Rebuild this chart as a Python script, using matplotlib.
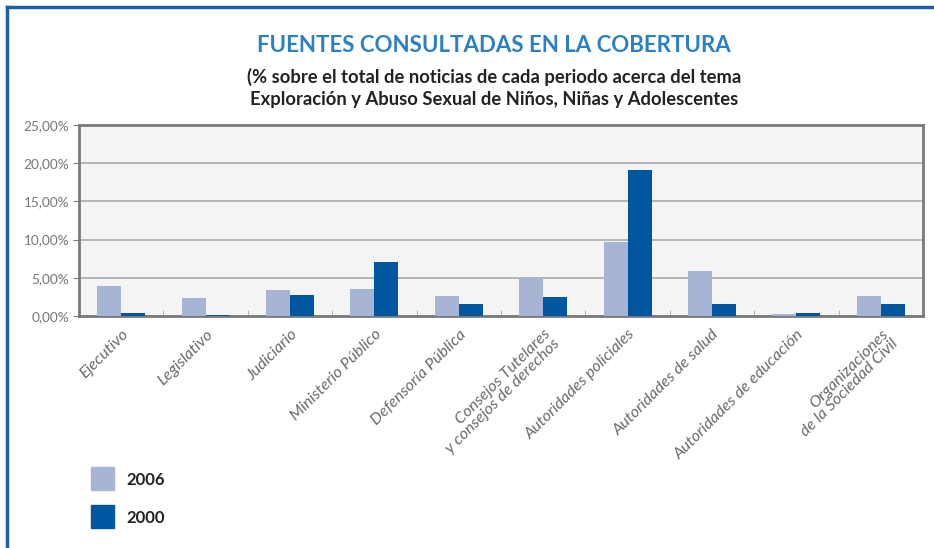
import numpy as np
import matplotlib
matplotlib.use('Agg')
import matplotlib.pyplot as plt
from matplotlib.lines import Line2D
from matplotlib.patches import Rectangle
from matplotlib.ticker import FuncFormatter

# datos
categorias = ['Ejecutivo', 'Legislativo', 'Judiciario', 'Ministerio Público',
              'Defensoría Pública', 'Consejos Tutelares\ny consejos de derechos',
              'Autoridades policiales', 'Autoridades de salud',
              'Autoridades de educación', 'Organizaciones\nde la Sociedad Civil']
valores_2006 = [3.9, 2.35, 3.35, 3.55, 2.6, 4.95, 9.75, 5.95, 0.25, 2.6]
valores_2000 = [0.4, 0.1, 2.75, 7.05, 1.55, 2.5, 19.1, 1.55, 0.4, 1.55]
anios = ['2006', '2000']

color_2006 = '#a6b5d6'
color_2000 = '#00579f'

plt.rcParams['font.family'] = ['Lato', 'DejaVu Sans']

fig = plt.figure(figsize=(9.34, 5.48), dpi=100)
ax = fig.add_axes([79 / 934, 1 - 316 / 548, (923 - 79) / 934, (316 - 125) / 548])

x = np.arange(len(categorias))
w = 0.285
ax.bar(x - w / 2, valores_2006, w, color=color_2006, zorder=3)
ax.bar(x + w / 2, valores_2000, w, color=color_2000, zorder=3)

ax.set_xlim(-0.5, len(categorias) - 0.5)
ax.set_ylim(0, 25)
ax.set_facecolor('#f3f4f3')
ax.set_yticks(np.arange(0, 26, 5))
ax.yaxis.set_major_formatter(FuncFormatter(lambda v, p: f'{v:.2f}%'.replace('.', ',')))
ax.grid(axis='y', color='#b0b0b0', linewidth=1.3, zorder=0)
for s in ax.spines.values():
    s.set_color('#7a7a7a')
    s.set_linewidth(2)

ax.set_xticks(x)
ax.set_xticklabels(categorias, rotation=45, ha='right', rotation_mode='anchor',
                   fontsize=11.8, style='italic', fontweight='normal',
                   color='#6a6a6a', linespacing=1.0)
ax.tick_params(axis='x', length=0, pad=8)
ax.set_xticks(np.arange(-0.5, len(categorias), 1), minor=True)
ax.tick_params(axis='x', which='minor', length=4, color='#aaaaaa', direction='in')
ax.tick_params(axis='y', length=4, color='#7a7a7a', labelsize=9.8,
               labelcolor='#777777', pad=3)

# titulo
fig.text(494 / 934, 1 - 45 / 548, 'FUENTES CONSULTADAS EN LA COBERTURA',
         ha='center', va='center', fontsize=16, fontweight='bold', color='#2a80c2')
fig.text(494 / 934, 1 - 77 / 548,
         '(% sobre el total de noticias de cada periodo acerca del tema',
         ha='center', va='center', fontsize=13.2, fontweight='bold', color='#222222')
fig.text(494 / 934, 1 - 99 / 548,
         'Exploración y Abuso Sexual de Niños, Niñas y Adolescentes',
         ha='center', va='center', fontsize=13.2, fontweight='bold', color='#222222')

# leyenda manual
for i, (anio, col) in enumerate(zip(anios, [color_2006, color_2000])):
    y0 = 467 + i * 38
    fig.patches.append(Rectangle((91 / 934, 1 - (y0 + 23) / 548), 23 / 934, 23 / 548,
                                 transform=fig.transFigure, color=col))
    fig.text(126 / 934, 1 - (y0 + 13) / 548, anio, ha='left', va='center',
             fontsize=12, fontweight='bold', color='#222222')

# marco azul
fig.add_artist(Line2D([7 / 934, 1], [1 - 7 / 548] * 2, color='#1f5fa8', linewidth=2.5,
                      transform=fig.transFigure))
fig.add_artist(Line2D([7 / 934] * 2, [0, 1 - 7 / 548], color='#1f5fa8', linewidth=2.5,
                      transform=fig.transFigure))

fig.savefig('out.png', dpi=100, facecolor='white')
